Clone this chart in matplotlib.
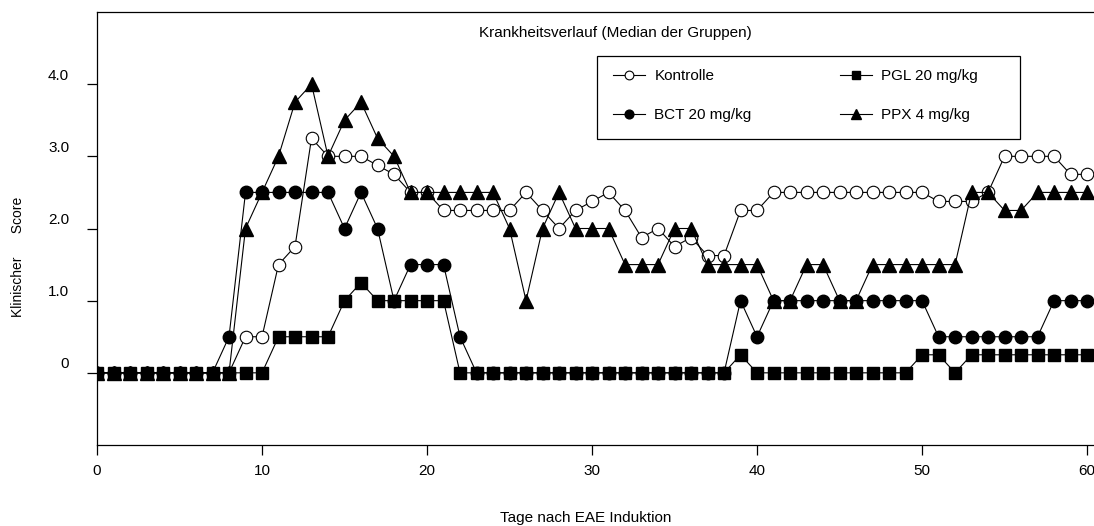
import matplotlib
matplotlib.use('Agg')
import matplotlib.pyplot as plt
import matplotlib.transforms as mtransforms
from matplotlib.patches import Rectangle

plt.rcParams['font.family'] = ['Liberation Sans', 'DejaVu Sans']

# median clinical score per group, day 0 .. 60 after EAE induction
days = list(range(61))
kontrolle = [0, 0, 0, 0, 0, 0, 0, 0, 0, 0.5, 0.5, 1.5, 1.75, 3.25, 3.0, 3.0, 3.0, 2.875, 2.75, 2.5,
             2.5, 2.25, 2.25, 2.25, 2.25, 2.25, 2.5, 2.25, 2.0, 2.25, 2.375, 2.5, 2.25, 1.875, 2.0,
             1.75, 1.875, 1.625, 1.625, 2.25, 2.25, 2.5, 2.5, 2.5, 2.5, 2.5, 2.5, 2.5, 2.5, 2.5,
             2.5, 2.375, 2.375, 2.375, 2.5, 3.0, 3.0, 3.0, 3.0, 2.75, 2.75]
pgl = [0, 0, 0, 0, 0, 0, 0, 0, 0, 0, 0, 0.5, 0.5, 0.5, 0.5, 1.0, 1.25, 1.0, 1.0, 1.0,
       1.0, 1.0, 0, 0, 0, 0, 0, 0, 0, 0, 0, 0, 0, 0, 0, 0, 0, 0, 0, 0.25,
       0, 0, 0, 0, 0, 0, 0, 0, 0, 0, 0.25, 0.25, 0, 0.25, 0.25, 0.25, 0.25, 0.25, 0.25, 0.25, 0.25]
bct = [0, 0, 0, 0, 0, 0, 0, 0, 0.5, 2.5, 2.5, 2.5, 2.5, 2.5, 2.5, 2.0, 2.5, 2.0, 1.0, 1.5,
       1.5, 1.5, 0.5, 0, 0, 0, 0, 0, 0, 0, 0, 0, 0, 0, 0, 0, 0, 0, 0, 1.0,
       0.5, 1.0, 1.0, 1.0, 1.0, 1.0, 1.0, 1.0, 1.0, 1.0, 1.0, 0.5, 0.5, 0.5, 0.5, 0.5, 0.5, 0.5,
       1.0, 1.0, 1.0]
ppx = [0, 0, 0, 0, 0, 0, 0, 0, 0, 2.0, 2.5, 3.0, 3.75, 4.0, 3.0, 3.5, 3.75, 3.25, 3.0, 2.5,
       2.5, 2.5, 2.5, 2.5, 2.5, 2.0, 1.0, 2.0, 2.5, 2.0, 2.0, 2.0, 1.5, 1.5, 1.5, 2.0, 2.0,
       1.5, 1.5, 1.5, 1.5, 1.0, 1.0, 1.5, 1.5, 1.0, 1.0, 1.5, 1.5, 1.5, 1.5, 1.5, 1.5,
       2.5, 2.5, 2.25, 2.25, 2.5, 2.5, 2.5, 2.5]

xticks = [0, 10, 20, 30, 40, 50, 60]
yticks = [0, 1, 2, 3, 4]
ytick_labels = ['0', '1.0', '2.0', '3.0', '4.0']

W, H = 1094, 526
fig = plt.figure(figsize=(W / 100, H / 100), dpi=100)
ax = fig.add_axes([97 / W, 81 / H, 997 / W, 433 / H])

ax.plot(days, kontrolle, color='k', lw=0.8, marker='o', ms=9, mfc='white', mec='k', mew=0.8,
        label='Kontrolle')
ax.plot(days, pgl, color='k', lw=0.8, marker='s', ms=9, mfc='k', mec='k', label='PGL 20 mg/kg')
ax.plot(days, bct, color='k', lw=0.8, marker='o', ms=9, mfc='k', mec='k', label='BCT 20 mg/kg')
ax.plot(days, ppx, color='k', lw=0.8, marker='^', ms=10, mfc='k', mec='k', label='PPX 4 mg/kg')

ax.set_xlim(0, 60.42)
ax.set_ylim(-1.0, 5.0)
ax.set_xticks(xticks)
ax.set_yticks(yticks)
ax.set_yticklabels(ytick_labels)
ax.spines['right'].set_visible(False)
for s in ['left', 'bottom', 'top']:
    ax.spines[s].set_linewidth(0.9)
ax.tick_params(axis='both', direction='out', length=7, width=0.9, labelsize=11)
ax.tick_params(axis='y', pad=13)
ax.tick_params(axis='x', pad=7)

# y labels sit above their ticks in the original
shift = mtransforms.ScaledTranslation(0, 10 / 100, fig.dpi_scale_trans)
for lab in ax.get_yticklabels():
    lab.set_transform(lab.get_transform() + shift)

# legend box drawn separately, entries placed inside it
box = Rectangle((597 / W, 1 - 139 / H), 423 / W, 83 / H, transform=fig.transFigure,
                facecolor='white', edgecolor='k', lw=0.9, zorder=4, clip_on=False)
ax.add_patch(box)
handles, labels = ax.get_legend_handles_labels()
order = [0, 2, 1, 3]
leg = ax.legend([handles[i] for i in order], [labels[i] for i in order], ncol=2,
                loc='upper left', bbox_to_anchor=(613 / W, 1 - 69 / H),
                bbox_transform=fig.transFigure, borderaxespad=0, borderpad=0, frameon=False,
                fontsize=11, handlelength=2.1, handletextpad=0.6, columnspacing=5.8,
                labelspacing=1.65, markerscale=0.7)
leg.set_zorder(6)

fig.text(615 / W, 1 - 33 / H, 'Krankheitsverlauf (Median der Gruppen)',
         ha='center', va='center', fontsize=11)
fig.text(586 / W, 1 - 518 / H, 'Tage nach EAE Induktion', ha='center', va='center',
         fontsize=11)
fig.text(18 / W, 1 - 257 / H, 'Klinischer      Score', rotation=90, ha='center',
         va='center', fontsize=10)

fig.savefig('out.png', dpi=100)
